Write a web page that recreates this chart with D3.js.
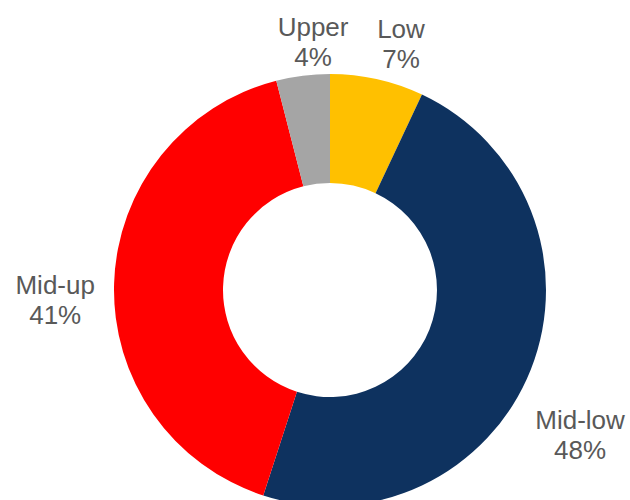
<!DOCTYPE html>
<html>
<head>
<meta charset="utf-8">
<script src="https://cdn.jsdelivr.net/npm/d3@7"></script>
<style>
  html, body { margin: 0; padding: 0; background: #fff; }
  svg { display: block; }
</style>
</head>
<body>
<svg id="chart" width="630" height="500"></svg>
<script>
// Segment shares, clockwise from 12 o'clock
const categories = ["Low", "Mid-low", "Mid-up", "Upper"];
const shares = [7, 48, 41, 4];
const colors = ["#FFC000", "#0E325F", "#FF0000", "#A5A5A5"];

const width = 630, height = 500;
const cx = 330, cy = 290;
const outerR = 216, innerR = 107;

const svg = d3.select("#chart");
const g = svg.append("g").attr("transform", `translate(${cx},${cy})`);

const data = categories.map((c, i) => ({ name: c, value: shares[i], color: colors[i] }));

const pie = d3.pie().value(d => d.value).sort(null);
const arc = d3.arc().innerRadius(innerR).outerRadius(outerR);
const arcs = pie(data);

g.selectAll("path.slice")
  .data(arcs)
  .join("path")
  .attr("class", "slice")
  .attr("d", arc)
  .attr("fill", d => d.data.color);

// Outside labels: placed along each slice's bisector, pushed outward
// (angle tweak in degrees, distance from centre in px)
const labelPlacement = {
  "Low":     { turn: 3.5,  r: 256 },
  "Mid-low": { turn: 8.5,  r: 289 },
  "Mid-up":  { turn: -3.9, r: 275 },
  "Upper":   { turn: 3.3,  r: 249 }
};

g.selectAll("text.lbl")
  .data(arcs)
  .join("text")
  .attr("class", "lbl")
  .attr("text-anchor", "middle")
  .attr("font-family", "'Liberation Sans', Arial, sans-serif")
  .attr("font-size", 26)
  .attr("fill", "#595959")
  .each(function(d) {
    const p = labelPlacement[d.data.name];
    const a = (d.startAngle + d.endAngle) / 2 + p.turn * Math.PI / 180;
    const x = Math.sin(a) * p.r;
    const y = -Math.cos(a) * p.r;
    const t = d3.select(this);
    t.append("tspan").attr("x", x).attr("y", y - 6).text(d.data.name);
    t.append("tspan").attr("x", x).attr("y", y + 24).text(d.data.value + "%");
  });
</script>
</body>
</html>
